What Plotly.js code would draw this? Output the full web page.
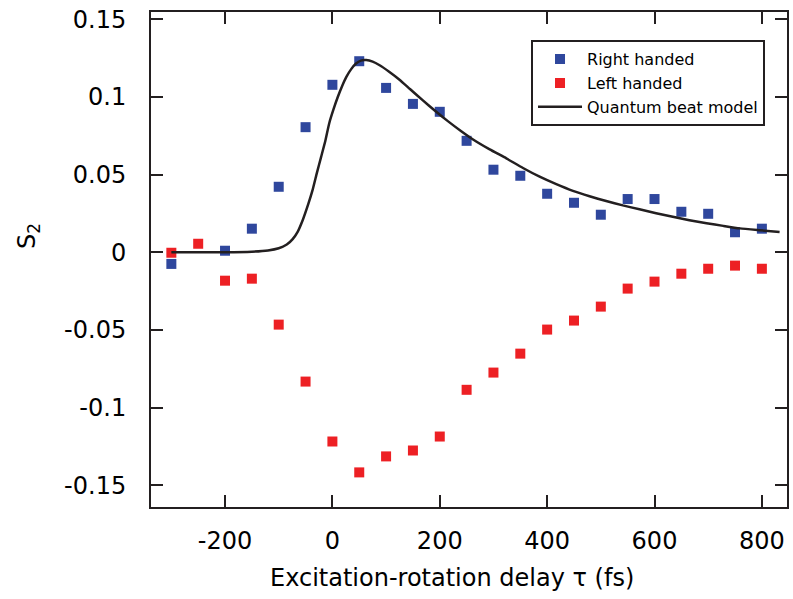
<!DOCTYPE html>
<html>
<head>
<meta charset="utf-8">
<script src="https://cdn.plot.ly/plotly-3.0.1.min.js"></script>
<style>html,body{margin:0;padding:0;background:#fff;}#chart{width:793px;height:599px;}</style>
</head>
<body>
<div id="chart"></div>
<script>
const rightX = [-300,-200,-150,-100,-50,0,50,100,150,200,250,300,350,400,450,500,550,600,650,700,750,800];
const rightY = [-0.0075,0.001,0.0152,0.0422,0.0806,0.1079,0.1231,0.1059,0.0956,0.0905,0.0718,0.0532,0.0493,0.0377,0.0319,0.0242,0.0343,0.0343,0.0261,0.0248,0.0129,0.0152];
const leftX = [-300,-250,-200,-150,-100,-50,0,50,100,150,200,250,300,350,400,450,500,550,600,650,700,750,800];
const leftY = [-0.0003,0.0055,-0.0183,-0.017,-0.0466,-0.0833,-0.1219,-0.1418,-0.1315,-0.1277,-0.1187,-0.0886,-0.0775,-0.0653,-0.0498,-0.044,-0.035,-0.0234,-0.0189,-0.0138,-0.0106,-0.0086,-0.0106];
const modelX = [-300,-250,-200,-150,-120,-100,-85,-74,-65,-55,-45,-37,-29,-21,-13,-6,2,10,18,26,35,44,53,63,75,88,105,125,145,168,190,215,240,262,293,324,355,386,417,448,479,510,541,572,603,634,665,697,728,759,796,833];
const modelY = [0,0,0,0.0004,0.0012,0.0026,0.005,0.0085,0.013,0.021,0.031,0.040,0.051,0.0615,0.072,0.083,0.092,0.100,0.107,0.113,0.118,0.1216,0.1235,0.1238,0.1228,0.1205,0.1165,0.1112,0.1050,0.0980,0.0915,0.0845,0.0780,0.0727,0.0663,0.0605,0.0543,0.0487,0.0439,0.0396,0.0361,0.0330,0.0302,0.0277,0.0252,0.0229,0.0207,0.0187,0.0170,0.0154,0.0142,0.0131];
const xTicks = [-200,0,200,400,600,800];
const xTickText = ['-200','0','200','400','600','800'];
const yTicks = [-0.15,-0.1,-0.05,0,0.05,0.1,0.15];
const yTickText = ['-0.15','-0.1','-0.05','0','0.05','0.1','0.15'];
const xTitle = 'Excitation-rotation delay τ (fs)';
const yTitle = 'S<sub>2</sub>';

const font = 'DejaVu Sans, Verdana, sans-serif';
const axisColor = '#231f20';

const traces = [
  {x: rightX, y: rightY, mode: 'markers', type: 'scatter', name: 'Right handed',
   marker: {symbol: 'square', size: 10, color: '#2f479d'}},
  {x: leftX, y: leftY, mode: 'markers', type: 'scatter', name: 'Left handed',
   marker: {symbol: 'square', size: 10, color: '#ed2024'}},
  {x: modelX, y: modelY, mode: 'lines', type: 'scatter', name: 'Quantum beat model',
   line: {color: axisColor, width: 2.5, shape: 'spline', smoothing: 0.5}}
];

const layout = {
  width: 793, height: 599,
  margin: {l: 151, r: 6, t: 12, b: 92},
  paper_bgcolor: '#fff', plot_bgcolor: '#fff',
  font: {family: font, size: 24, color: '#000'},
  showlegend: true,
  legend: {x: 0.5975, y: 0.943, xanchor: 'left', yanchor: 'top',
    bgcolor: '#fff', bordercolor: axisColor, borderwidth: 2, itemwidth: 44,
    font: {family: font, size: 16, color: '#000'}, tracegroupgap: 0},
  xaxis: {
    range: [-337.9, 846.8], tickvals: xTicks, ticktext: xTickText, ticks: 'inside', ticklen: 12, tickwidth: 2,
    tickcolor: axisColor, showline: true, linecolor: axisColor, linewidth: 2, mirror: 'ticks',
    showgrid: false, zeroline: false, ticklabelstandoff: 11,
    tickfont: {family: font, size: 24, color: '#000'}
  },
  yaxis: {
    range: [-0.1641, 0.1548], tickvals: yTicks, ticktext: yTickText, ticks: 'inside', ticklen: 12, tickwidth: 2,
    tickcolor: axisColor, showline: true, linecolor: axisColor, linewidth: 2, mirror: 'ticks',
    showgrid: false, zeroline: false, ticklabelstandoff: 18,
    tickfont: {family: font, size: 24, color: '#000'}
  },
  annotations: [
    {text: xTitle, xref: 'paper', yref: 'paper', x: 0.473, y: -0.1434, xanchor: 'center', yanchor: 'middle',
     showarrow: false, font: {family: font, size: 24, color: '#000'}},
    {text: yTitle, xref: 'paper', yref: 'paper', x: -0.193, y: 0.548, xanchor: 'center', yanchor: 'middle',
     textangle: -90, showarrow: false, font: {family: font, size: 24, color: '#000'}}
  ]
};

Plotly.newPlot('chart', traces, layout, {displayModeBar: false, staticPlot: true});
</script>
</body>
</html>
